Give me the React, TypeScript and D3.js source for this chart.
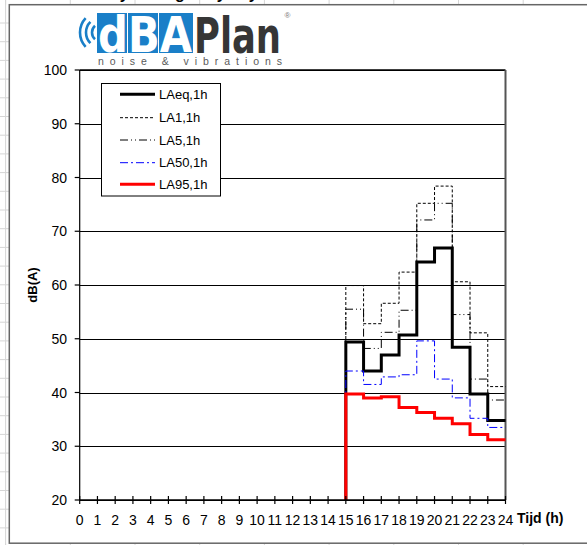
import React from 'react';
import * as d3 from 'd3';

// ---- data ----
const hours = [15, 16, 17, 18, 19, 20, 21, 22, 23];
const LAeq = [49.4, 44.0, 47.0, 50.7, 64.3, 66.9, 48.4, 39.7, 34.8];
const LA1 = [59.9, 52.8, 56.6, 62.4, 75.2, 78.4, 60.6, 51.1, 41.1];
const LA5 = [55.5, 48.2, 51.2, 55.3, 72.1, 75.2, 54.5, 42.5, 38.6];
const LA50 = [44.0, 41.5, 42.9, 43.3, 49.6, 42.5, 39.0, 35.2, 33.5];
const LA95 = [39.7, 39.0, 39.2, 37.2, 36.3, 35.2, 34.2, 32.2, 31.2];
const seriesNames = ['LAeq,1h', 'LA1,1h', 'LA5,1h', 'LA50,1h', 'LA95,1h'];
const xTicks = [0, 1, 2, 3, 4, 5, 6, 7, 8, 9, 10, 11, 12, 13, 14, 15, 16, 17, 18, 19, 20, 21, 22, 23, 24];
const yTicks = [20, 30, 40, 50, 60, 70, 80, 90, 100];
const xTitle = 'Tijd (h)';
const yTitle = 'dB(A)';

const seriesValues = [LAeq, LA1, LA5, LA50, LA95];
const seriesStyle = [
  { color: '#000000', width: 3, dash: null as string | null },
  { color: '#000000', width: 1, dash: '3,2' },
  { color: '#000000', width: 1, dash: '8,3,1,3,1,3' },
  { color: '#0000ff', width: 1, dash: '8,3,2,3' },
  { color: '#ff0000', width: 3, dash: null as string | null },
];

const W = 587;
const H = 545;
const plot = { left: 79.7, right: 505.5, top: 70, bottom: 500 };
const FONT = '"Liberation Sans", Arial, sans-serif';

export default function App() {
  const x = d3.scaleLinear().domain([0, 24]).range([plot.left, plot.right]);
  const y = d3.scaleLinear().domain([20, 100]).range([plot.bottom, plot.top]);
  const [yMin] = y.domain();
  const xEnd = x.domain()[1];

  const line = d3
    .line<[number, number]>()
    .x((d) => x(d[0]))
    .y((d) => y(d[1]))
    .curve(d3.curveStepAfter);

  const paths = seriesValues.map((vals) => {
    const pts: [number, number][] = [[hours[0], yMin]];
    hours.forEach((h, i) => pts.push([h, vals[i]]));
    pts.push([xEnd, vals[vals.length - 1]]);
    return line(pts) || '';
  });

  // sheet cell grid decorations
  const rowLines = d3.range(23, H, 18.7);
  const colLines = d3.range(5.6, W + 1, 64.7);

  // legend
  const lg = { x: 101.5, y: 83.5, w: 119, h: 112.5 };
  const rowY = [94.3, 117.7, 140, 162.7, 184.3];

  const blue = '#1a7fc8';

  return (
    <svg
      width={W}
      height={H}
      style={{ position: 'absolute', left: 0, top: 0, background: '#fff' }}
      xmlns="http://www.w3.org/2000/svg"
    >
      {/* sheet grid outside chart */}
      {rowLines.map((ry, i) => (
        <line key={'r' + i} x1={0} x2={9} y1={ry} y2={ry} stroke="#d6d6d6" strokeWidth={1} />
      ))}
      <line x1={5.6} x2={5.6} y1={0} y2={H} stroke="#d6d6d6" strokeWidth={1} />
      {colLines.map((cx, i) => (
        <g key={'c' + i}>
          <line x1={cx} x2={cx} y1={0} y2={4.5} stroke="#d6d6d6" strokeWidth={1} />
          <line x1={cx} x2={cx} y1={543.5} y2={H} stroke="#d6d6d6" strokeWidth={1} />
        </g>
      ))}
      {/* title fragment from sheet above */}
      <text x={78} y={-1.5} fontFamily={FONT} fontWeight="bold" fontSize={16} fill="#000">
        Hourly averages by day
      </text>

      {/* chart frame */}
      <rect x={9.3} y={4.7} width={W + 10} height={538.5} fill="#fff" stroke="#666" strokeWidth={1.5} />

      {/* logo */}
      <g>
        {[9, 15, 21].map((r, i) => {
          const cx = 101;
          const cy = 32.5;
          const a = (i === 0 ? 48 : i === 1 ? 45 : 43) * (Math.PI / 180);
          const x1 = cx - r * Math.cos(a);
          const y1 = cy - r * Math.sin(a);
          const y2 = cy + r * Math.sin(a);
          return (
            <path
              key={'arc' + i}
              d={`M${x1},${y1} A${r},${r} 0 0 0 ${x1},${y2}`}
              fill="none"
              stroke={blue}
              strokeWidth={2.6}
            />
          );
        })}
        <rect x={97} y={13} width={30} height={40} fill={blue} />
        <rect x={128} y={13} width={30} height={40} fill={blue} />
        <rect x={159} y={13} width={34} height={40} fill={blue} />
        <text
          x={98}
          y={52}
          fontFamily='"DejaVu Sans", sans-serif'
          fontWeight="bold"
          fontSize={50}
          fill="#fff"
          textLength={94}
          lengthAdjust="spacingAndGlyphs"
        >
          dBA
        </text>
        <text
          x={194}
          y={52.5}
          fontFamily='"DejaVu Sans", sans-serif'
          fontWeight="bold"
          fontSize={50}
          fill="#363636"
          textLength={87}
          lengthAdjust="spacingAndGlyphs"
        >
          Plan
        </text>
        <text x={284.5} y={18} fontFamily={FONT} fontSize={8} fill="#777">
          ®
        </text>
        <text
          x={98}
          y={65}
          fontFamily={FONT}
          fontSize={10.5}
          fill="#5a5a5a"
          textLength={184}
          lengthAdjust="spacing"
        >
          noise &amp; vibrations
        </text>
      </g>

      {/* gridlines */}
      {yTicks.map((t) => (
        <line
          key={'g' + t}
          x1={plot.left}
          x2={plot.right}
          y1={Math.round(y(t)) + 0.5}
          y2={Math.round(y(t)) + 0.5}
          stroke="#000"
          strokeWidth={1}
        />
      ))}

      {/* plot border */}
      <line x1={plot.left} x2={plot.right} y1={plot.top} y2={plot.top} stroke="#000" strokeWidth={1.6} />
      <line x1={plot.right} x2={plot.right} y1={plot.top} y2={plot.bottom} stroke="#555" strokeWidth={2} />

      {/* series */}
      {paths.map((d, i) => (
        <path
          key={'s' + i}
          d={d}
          fill="none"
          stroke={seriesStyle[i].color}
          strokeWidth={seriesStyle[i].width}
          strokeDasharray={seriesStyle[i].dash || undefined}
          strokeLinejoin="miter"
        />
      ))}

      {/* axes */}
      <line x1={plot.left} x2={plot.left} y1={plot.top} y2={plot.bottom} stroke="#000" strokeWidth={1.2} />
      <line x1={plot.left} x2={plot.right} y1={plot.bottom} y2={plot.bottom} stroke="#000" strokeWidth={1.6} />
      {yTicks.map((t) => (
        <g key={'yt' + t}>
          <line x1={plot.left - 5} x2={plot.left} y1={y(t)} y2={y(t)} stroke="#000" strokeWidth={1.2} />
          <text x={67} y={y(t) + 5} textAnchor="end" fontFamily={FONT} fontSize={14} fill="#000">
            {t}
          </text>
        </g>
      ))}
      {xTicks.map((t) => (
        <g key={'xt' + t}>
          <line x1={x(t)} x2={x(t)} y1={plot.bottom - 4} y2={plot.bottom + 4} stroke="#000" strokeWidth={1.2} />
          <text x={x(t)} y={525} textAnchor="middle" fontFamily={FONT} fontSize={14} fill="#000">
            {t}
          </text>
        </g>
      ))}
      <text x={517} y={523} fontFamily={FONT} fontWeight="bold" fontSize={14} fill="#000">
        {xTitle}
      </text>
      <text
        transform="translate(37,285) rotate(-90)"
        textAnchor="middle"
        fontFamily={FONT}
        fontWeight="bold"
        fontSize={13}
        fill="#000"
      >
        {yTitle}
      </text>

      {/* legend */}
      <rect x={lg.x} y={lg.y} width={lg.w} height={lg.h} fill="#fff" stroke="#000" strokeWidth={1} />
      {seriesNames.map((n, i) => (
        <g key={'lg' + i}>
          <line
            x1={120}
            x2={155}
            y1={rowY[i]}
            y2={rowY[i]}
            stroke={seriesStyle[i].color}
            strokeWidth={seriesStyle[i].width}
            strokeDasharray={seriesStyle[i].dash || undefined}
          />
          <text x={159} y={rowY[i] + 4.5} fontFamily={FONT} fontSize={13} fill="#000">
            {n}
          </text>
        </g>
      ))}
    </svg>
  );
}
